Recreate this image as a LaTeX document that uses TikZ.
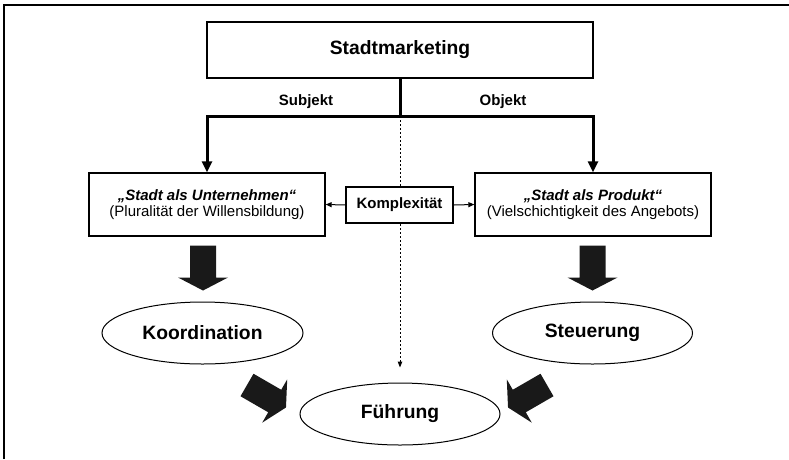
\documentclass[tikz,border=0pt]{standalone}
\usepackage{fontspec}
\setmainfont{Liberation Sans}
\usetikzlibrary{arrows.meta,shapes.geometric}
\begin{document}
\begin{tikzpicture}[x=1pt,y=-1pt,
  box/.style={draw, line width=1.3pt, fill=white, inner sep=0pt},
  oval/.style={draw, ellipse, line width=1pt, inner sep=0pt},
  big/.style={font=\fontsize{19.3}{22}\selectfont\bfseries},
  mid/.style={font=\fontsize{15}{15.5}\selectfont},
  lab/.style={font=\fontsize{15}{17}\selectfont\bfseries},
  thickcon/.style={line width=3pt, -{Triangle[length=11pt,width=10pt]}},
  thincon/.style={line width=1pt, -{Triangle[length=6pt,width=5pt]}},
  dotcon/.style={line width=1pt, dash pattern=on 2pt off 2pt, -{Triangle[length=6pt,width=4.5pt]}},
  pics/blockarrow/.style={code={
    \fill[black!90] (0,-13) -- (32,-13) -- (32,-25) -- (45,0) -- (32,25) -- (32,13) -- (0,13) -- cycle;}}
]
\useasboundingbox (0,0) rectangle (789,459);
% frame
\draw[line width=1.5pt] (4,459) -- (4,5) -- (789,5);

% nodes
\node[box, big, minimum width=386, minimum height=56] (sm) at (400,50) {Stadtmarketing};
\coordinate (j) at (400,116);

\node[lab] (subj) at (306,102) {Subjekt};
\node[lab] (obj) at (503,102) {Objekt};

% dotted line behind Komplexitaet
\node[oval, big, minimum width=200, minimum height=62] (fuehr) at (400,414) {Führung};
\draw[dotcon, shorten >=15pt] (j) -- (fuehr.north);

\node[box, mid, align=center, minimum width=236, minimum height=63] (unt) at (207,204.5)
  {\textbf{\textit{„Stadt als Unternehmen“}}\\(Pluralität der Willensbildung)};
\node[box, mid, align=center, minimum width=236, minimum height=63] (prod) at (593,204.5)
  {\textbf{\textit{„Stadt als Produkt“}}\\(Vielschichtigkeit des Angebots)};
\node[box, lab, minimum width=107, minimum height=36] (kom) at (399.5,205) {Komplexität};

\node[oval, big, minimum width=201, minimum height=62] (koord) at (202.5,333) {Koordination};
\node[oval, big, minimum width=200, minimum height=62] (steu) at (592.5,333) {Steuerung};

% connectors
\draw[line width=3pt] (sm.south) -- (j);
\draw[thickcon] (j) -| (unt.north);
\draw[thickcon] (j) -| (prod.north);
\draw[thincon] (kom.west) -- (unt.east);
\draw[thincon] (kom.east) -- (prod.west);

% block arrows
\pic[rotate=-90] at (203,245.5) {blockarrow};
\pic[rotate=-90] at (592.5,245.5) {blockarrow};
\pic[rotate=-30] at (247,385) {blockarrow};
\pic[rotate=-150] at (547,385) {blockarrow};
\end{tikzpicture}
\end{document}
